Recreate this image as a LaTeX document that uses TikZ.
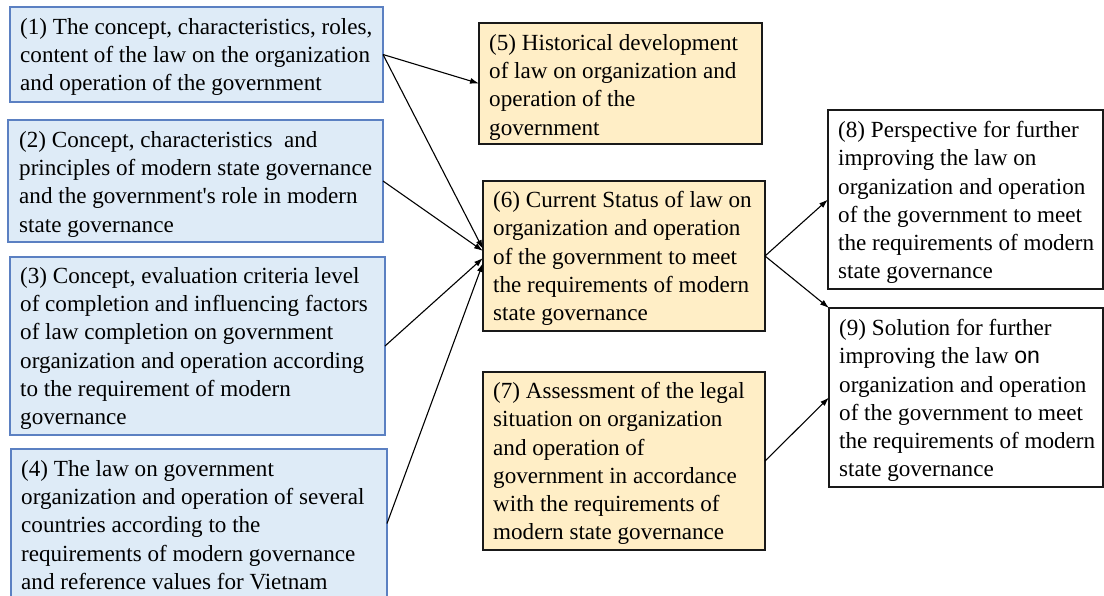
\documentclass[tikz,border=0pt]{standalone}
\usepackage{fontspec}
\setmainfont{Liberation Serif}[Ligatures=TeXOff]
\newfontfamily\arialfam{Liberation Sans}
\usetikzlibrary{arrows.meta}
\definecolor{inputfill}{HTML}{DEEBF7}
\definecolor{inputdraw}{HTML}{5B80C2}
\definecolor{studyfill}{HTML}{FFEEC6}
\begin{document}
\begin{tikzpicture}[x=1pt,y=-1pt,
  box/.style={rectangle, inner sep=0pt, outer sep=0pt, anchor=north west},
  inbox/.style={box, fill=inputfill, draw=inputdraw, line width=1.3pt},
  midbox/.style={box, fill=studyfill, draw=black!90, line width=1.8pt},
  outbox/.style={box, fill=white, draw=black!90, line width=1.8pt},
  txt/.style={inner sep=0pt, anchor=north west, align=left,
    font=\fontsize{23.1pt}{28.3pt}\selectfont},
  link/.style={line width=1.1pt, -{Latex[length=9pt,width=6pt]}}]
\useasboundingbox (0,0) rectangle (1104,595);
\clip (0,0) rectangle (1104,595);

% input boxes (left column)
\node[inbox, minimum width=373pt, minimum height=95pt]  (b1) at (10,7) {};
\node[inbox, minimum width=375pt, minimum height=122pt] (b2) at (8,120) {};
\node[inbox, minimum width=375pt, minimum height=178pt] (b3) at (10,257) {};
\node[inbox, minimum width=376pt, minimum height=149pt] (b4) at (11,449) {};
% study boxes (middle column)
\node[midbox, minimum width=283pt, minimum height=121pt] (b5) at (479,23) {};
\node[midbox, minimum width=282pt, minimum height=150pt] (b6) at (483,181) {};
\node[midbox, minimum width=282pt, minimum height=178pt] (b7) at (483,372) {};
% outcome boxes (right column)
\node[outbox, minimum width=275pt, minimum height=179pt] (b8) at (828,110) {};
\node[outbox, minimum width=274pt, minimum height=179pt] (b9) at (829,308) {};

% connectors
\draw[link] (b1.east) -- (b5.west);
\draw[link] (b1.east) -- ([yshift=7pt]b6.west);
\draw[link] (b2.east) -- ([yshift=5pt]b6.west);
\draw[link] (b3.east) -- ([yshift=-2pt]b6.west);
\draw[link] (b4.east) -- ([yshift=-7pt]b6.west);
\draw[link] (b6.east) -- (b8.west);
\draw[link] (b6.east) -- (b9.north west);
\draw[link] (b7.east) -- (b9.west);

% texts
\node[txt] (t1) at ([xshift=10pt,yshift=-11pt]b1.north west)
  {(1) The concept, characteristics, roles,\\content of the law on the organization\\and operation of the government};
\node[txt] (t2) at ([xshift=11pt,yshift=-11pt]b2.north west)
  {(2) Concept, characteristics\ \ and\\principles of modern state governance\\and the government's role in modern\\state governance};
\node[txt] (t3) at ([xshift=10pt,yshift=-10pt]b3.north west)
  {(3) Concept, evaluation criteria level\\of completion and influencing factors\\of law completion on government\\organization and operation according\\to the requirement of modern\\governance};
\node[txt] (t4) at ([xshift=10pt,yshift=-11pt]b4.north west)
  {(4) The law on government\\organization and operation of several\\countries according to the\\requirements of modern governance\\and reference values for Vietnam};
\node[txt] (t5) at ([xshift=10pt,yshift=-11pt]b5.north west)
  {(5) Historical development\\of law on organization and\\operation of the\\government};
\node[txt] (t6) at ([xshift=10pt,yshift=-10pt]b6.north west)
  {(6) Current Status of law on\\organization and operation\\of the government to meet\\the requirements of modern\\state governance};
\node[txt] (t7) at ([xshift=10pt,yshift=-10pt]b7.north west)
  {(7) Assessment of the legal\\situation on organization\\and operation of\\government in accordance\\with the requirements of\\modern state governance};
\node[txt] (t8) at ([xshift=10pt,yshift=-11pt]b8.north west)
  {(8) Perspective for further\\improving the law on\\organization and operation\\of the government to meet\\the requirements of modern\\state governance};
\node[txt] (t9) at ([xshift=10pt,yshift=-11pt]b9.north west)
  {(9) Solution for further\\improving the law {\arialfam on}\\organization and operation\\of the government to meet\\the requirements of modern\\state governance};
\end{tikzpicture}
\end{document}
